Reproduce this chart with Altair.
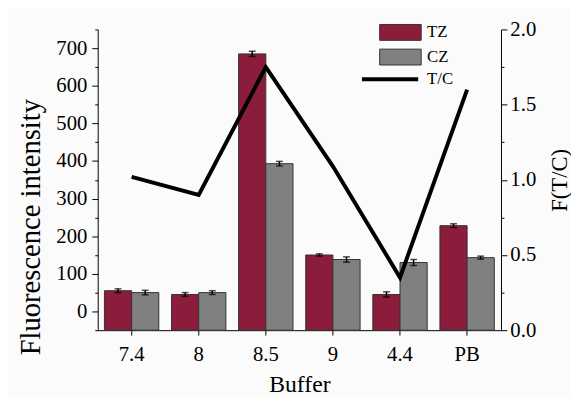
import altair as alt
import pandas as pd

buffers = ["7.4", "8", "8.5", "9", "4.4", "PB"]
tz = [55, 45, 685, 150, 45, 228]
tz_err = [5, 5, 7, 3, 7, 5]
cz = [50, 50, 393, 138, 130, 143]
cz_err = [6, 5, 6, 7, 8, 4]
ratio = [1.02, 0.90, 1.75, 1.09, 0.35, 1.60]
left_major = [0, 100, 200, 300, 400, 500, 600, 700]
left_minor = [-50, 50, 150, 250, 350, 450, 550, 650, 750]
right_major = [0, 0.5, 1.0, 1.5, 2.0]
right_minor = [0.25, 0.75, 1.25, 1.75]

rows = []
for s, vals, errs in (("TZ", tz, tz_err), ("CZ", cz, cz_err)):
    for b, v, e in zip(buffers, vals, errs):
        rows.append(dict(buffer=b, series=s, value=v, lo=v - e, hi=v + e, base=-50))
bars_df = pd.DataFrame(rows)
line_df = pd.DataFrame({"buffer": buffers, "ratio": ratio, "series": ["T/C"] * len(buffers)})

FONT = "Liberation Serif"
xscale = alt.Scale(domain=buffers, paddingInner=0.19, paddingOuter=0.1)
xoff = alt.XOffset("series:N", scale=alt.Scale(domain=["TZ", "CZ"], paddingInner=0, paddingOuter=0))
yscale = alt.Scale(domain=[-50, 750], nice=False, zero=False)
rscale = alt.Scale(domain=[0, 2], nice=False, zero=False)

xaxis = alt.Axis(title="Buffer", labelAngle=0, labelFont=FONT, labelFontSize=21, titleFont=FONT,
                 titleFontSize=24, titleFontWeight="normal", labelColor="black", titleColor="black",
                 domainColor="black", tickColor="black", tickSize=5, labelPadding=9, titlePadding=8)
xaxis_minor = alt.Axis(title=None, labels=False, domain=False, tickBand="extent", tickSize=3,
                       tickColor="black")
yaxis = alt.Axis(title="Fluorescence intensity", values=left_major, orient="left",
                 tickSize=6, labelOverlap=False, titleY=200,
                 labelFont=FONT, labelFontSize=21, titleFont=FONT, titleFontSize=29, titleFontWeight="normal",
                 labelColor="black", titleColor="black", domainColor="black", tickColor="black",
                 grid=False, labelPadding=5, titlePadding=11)
yaxis_minor = alt.Axis(title=None, values=left_minor, orient="left", labels=False, domain=False,
                       tickSize=3, tickColor="black", grid=False)
raxis = alt.Axis(title="F(T/C)", orient="right", values=right_major, format=".1f", labelOverlap=False,
                 tickSize=6, titleAngle=270, titleBaseline="top",
                 labelFont=FONT, labelFontSize=21, titleFont=FONT, titleFontSize=23, titleFontWeight="normal",
                 labelColor="black", titleColor="black", domainColor="black", tickColor="black",
                 grid=False, labelPadding=3, titlePadding=13)
raxis_minor = alt.Axis(title=None, values=right_minor, orient="right", labels=False, domain=False,
                       tickSize=3, tickColor="black", grid=False)

rect_path = "M-1.83,-0.7H1.83V0.7H-1.83Z"

base = alt.Chart(bars_df)
bars = base.mark_bar(stroke="#333333", strokeWidth=1).encode(
    x=alt.X("buffer:N", scale=xscale, axis=xaxis, sort=buffers),
    xOffset=xoff,
    y=alt.Y("value:Q", scale=yscale, axis=yaxis),
    y2="base:Q",
    fill=alt.Fill("series:N", scale=alt.Scale(domain=["TZ", "CZ"], range=["#8B1C3B", "#808080"]),
                  legend=alt.Legend(orient="none", legendX=295, legendY=-9, title=None,
                                    symbolType=rect_path, symbolSize=529, symbolStrokeColor="#333333",
                                    symbolStrokeWidth=1, labelFont=FONT, labelFontSize=17,
                                    labelColor="black", labelOffset=15)),
)
err = base.mark_rule(color="black", strokeWidth=1.5).encode(
    x=alt.X("buffer:N", scale=xscale, sort=buffers), xOffset=xoff,
    y=alt.Y("lo:Q", scale=yscale, axis=yaxis_minor), y2="hi:Q")
cap_lo = base.mark_tick(color="black", thickness=1.5, size=7).encode(
    x=alt.X("buffer:N", scale=xscale, sort=buffers), xOffset=xoff,
    y=alt.Y("lo:Q", scale=yscale, axis=None))
cap_hi = base.mark_tick(color="black", thickness=1.5, size=7).encode(
    x=alt.X("buffer:N", scale=xscale, sort=buffers), xOffset=xoff,
    y=alt.Y("hi:Q", scale=yscale, axis=None))

left = alt.layer(bars, err, cap_lo, cap_hi).resolve_axis(y="independent")

line = alt.Chart(line_df).mark_line(strokeWidth=4).encode(
    x=alt.X("buffer:N", scale=xscale, sort=buffers, axis=xaxis_minor),
    y=alt.Y("ratio:Q", scale=rscale, axis=raxis),
    stroke=alt.Stroke("series:N", scale=alt.Scale(domain=["T/C"], range=["black"]),
                      legend=alt.Legend(orient="none", legendX=266, legendY=20, title=None,
                                        symbolType="stroke", symbolSize=3249, symbolStrokeWidth=4,
                                        labelFont=FONT, labelFontSize=17, labelColor="black",
                                        labelOffset=7)),
)
line_minor = alt.Chart(line_df).mark_line(opacity=0).encode(
    x=alt.X("buffer:N", scale=xscale, sort=buffers, axis=None),
    y=alt.Y("ratio:Q", scale=rscale, axis=raxis_minor),
)
right = alt.layer(line, line_minor).resolve_axis(y="independent")

chart = alt.layer(left, right).resolve_scale(
    y="independent", fill="independent", stroke="independent"
).resolve_axis(x="independent").properties(
    width=409, height=305,
    autosize=alt.AutoSizeParams(type="none"),
    padding={"left": 91, "top": 19, "right": 71, "bottom": 65},
    background="#fbfbfb",
).configure_view(stroke=None)

chart.save("out.html", embed_options={"renderer": "svg", "actions": False})
